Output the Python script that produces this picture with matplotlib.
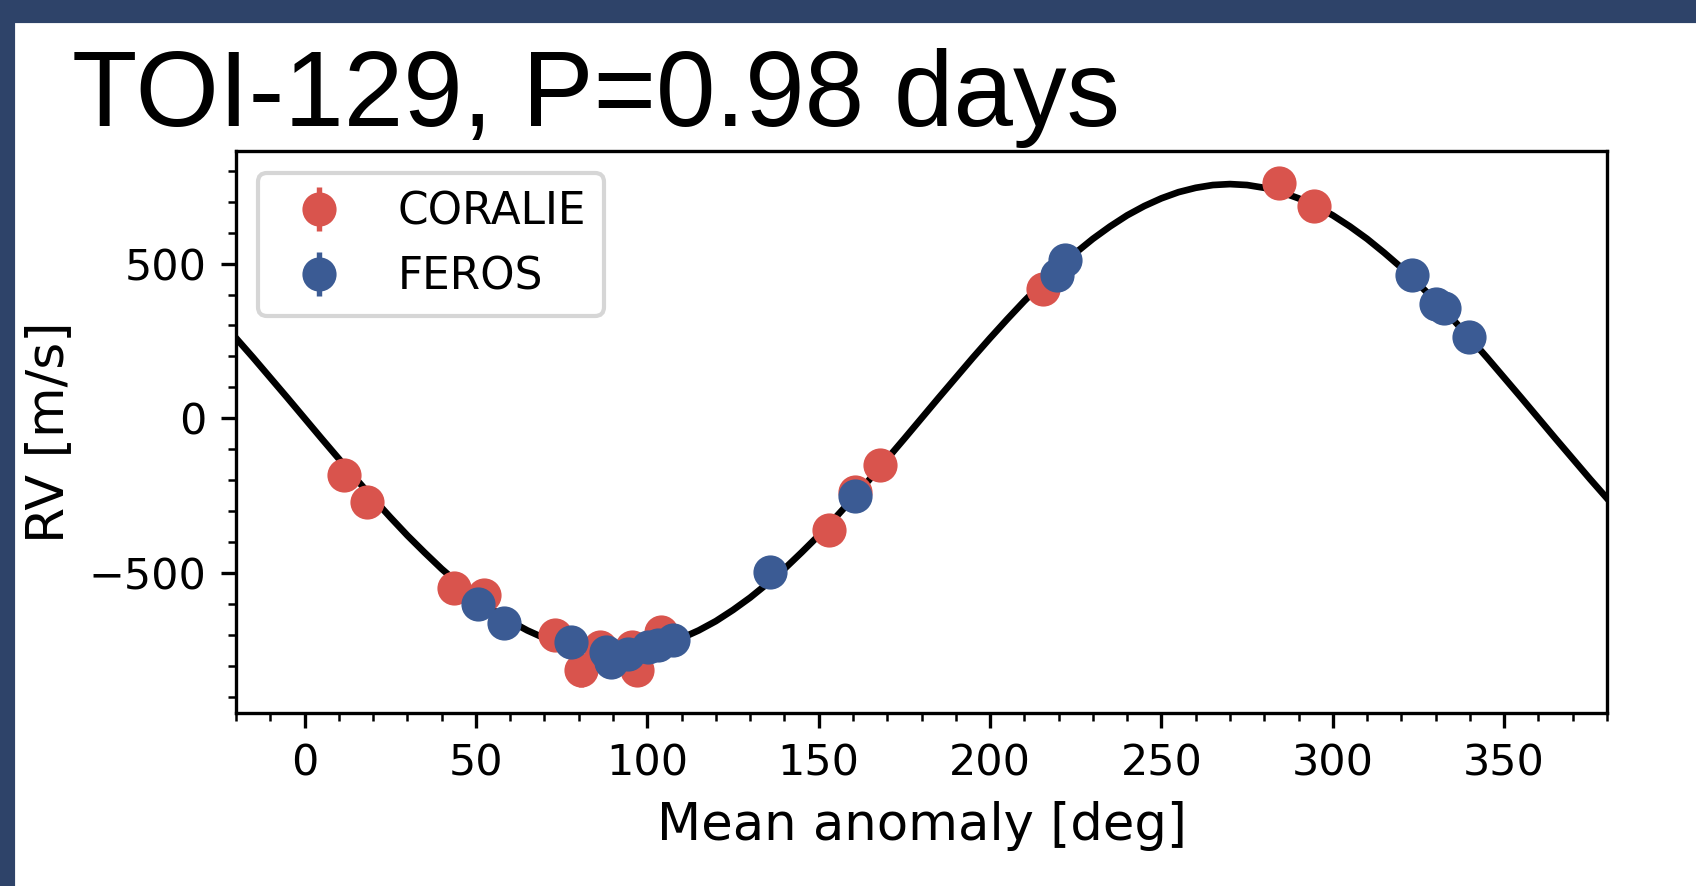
import numpy as np
import matplotlib
matplotlib.use("Agg")
import matplotlib.pyplot as plt
from matplotlib.patches import Rectangle

# data
coralie_x = [11.5, 18.2, 43.5, 52.5, 73.0, 80.8, 86.2, 95.4, 96.9, 103.9,
             153.0, 160.7, 167.9, 215.5, 284.3, 294.5]
coralie_rv = [-183, -272, -548, -572, -701, -814, -739, -739, -814, -691,
              -362, -238, -152, 418, 760, 687]
coralie_err = [25, 25, 25, 25, 25, 55, 25, 25, 25, 25,
               25, 25, 25, 25, 25, 25]

feros_x = [50.7, 58.2, 77.6, 88.0, 89.5, 94.5, 100.3, 103.2, 107.6,
           135.8, 160.7, 219.6, 221.8, 323.2, 330.0, 332.4, 339.8]
feros_rv = [-602, -661, -723, -755, -788, -761, -739, -734, -718,
            -498, -252, 464, 510, 464, 369, 355, 263]
feros_err = [10] * len(feros_x)

# model curve, read every 5 deg
model_x = list(range(-20, 385, 5))
model_rv = [259, 196, 131, 66,
            0, -66, -131, -196, -259, -320, -379, -434, -487, -535, -580, -620,
            -656, -686, -711, -731, -745, -754, -757, -754, -745, -731, -711,
            -686, -656, -620, -580, -535, -487, -434, -379, -320, -259, -196,
            -131, -66,
            0, 66, 131, 196, 259, 320, 379, 434, 487, 535, 580, 620,
            656, 686, 711, 731, 745, 754, 757, 754, 745, 731, 711,
            686, 656, 620, 580, 535, 487, 434, 379, 320, 259, 196,
            131, 66,
            0, -66, -131, -196, -259]

red = "#d9544d"
blue = "#3b5b94"
navy = "#2e4369"

dpi = 300
fig = plt.figure(figsize=(1696 / dpi, 886 / dpi), dpi=dpi)
W, H = 1696, 886

# slide frame (top and left band)
fig.patches.append(Rectangle((0, 1 - 21 / H), 1, 21 / H, transform=fig.transFigure,
                             color=navy, zorder=0))
fig.patches.append(Rectangle((0, 0), 13 / W, 1, transform=fig.transFigure,
                             color=navy, zorder=0))

fig.text(72 / W, 1 - 126 / H, "TOI-129, P=0.98 days", fontsize=25.7,
         family=["Liberation Sans", "DejaVu Sans"], va="baseline", ha="left")

ax = fig.add_axes([236 / W, 1 - 713 / H, (1607 - 236) / W, (713 - 151) / H])

ax.plot(model_x, model_rv, color="black", lw=1.6, zorder=2)
ax.errorbar(coralie_x, coralie_rv, yerr=coralie_err, fmt="o", color=red,
            ms=7.2, elinewidth=1.3, label="CORALIE", zorder=3)
ax.errorbar(feros_x, feros_rv, yerr=feros_err, fmt="o", color=blue,
            ms=7.2, elinewidth=1.3, label="FEROS", zorder=4)

ax.set_xlim(-20, 380)
ax.set_ylim(-953, 864)
ax.set_xticks(range(0, 351, 50))
ax.set_yticks([-500, 0, 500])
ax.xaxis.set_minor_locator(matplotlib.ticker.MultipleLocator(10))
ax.yaxis.set_minor_locator(matplotlib.ticker.MultipleLocator(100))
ax.tick_params(labelsize=10.3)
ax.set_xlabel("Mean anomaly [deg]", fontsize=12.3)
ax.set_ylabel("RV [m/s]", fontsize=12.5, labelpad=3.5)
ax.legend(loc="upper left", fontsize=10.5)

fig.savefig("out.png", dpi=dpi)
